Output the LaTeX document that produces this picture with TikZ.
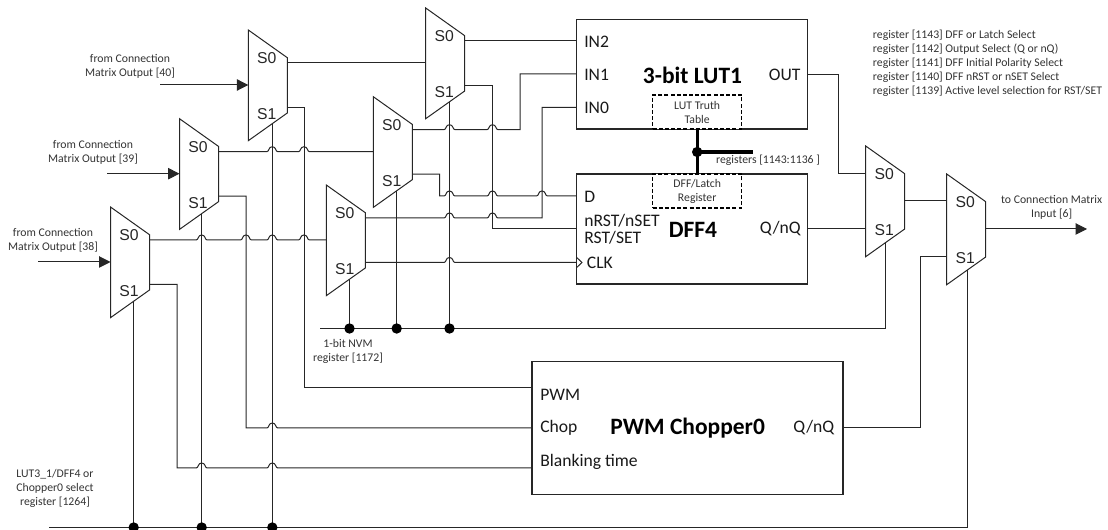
\documentclass[tikz,border=0pt]{standalone}
\usepackage{fontspec}
\setmainfont{Carlito}
\newfontfamily\muxfont{Liberation Sans}
\usetikzlibrary{arrows.meta}
\tikzset{
  wire/.style={draw=black!85,line width=0.75pt,line join=miter},
  sigarrow/.style={wire,-{Triangle[length=8.5pt,width=8.5pt]}},
  busline/.style={draw=black,line width=2.3pt},
  block/.style={draw=black!85,line width=0.85pt,fill=white,rectangle,inner sep=0pt,outer sep=0pt},
  dashbox/.style={draw=black,line width=1pt,dash pattern=on 3pt off 1.6pt,fill=white,rectangle,inner sep=0pt,outer sep=0pt,align=center,font=\fontsize{8.8}{10.5}\selectfont,text=black!80},
  muxbody/.style={draw=black!85,line width=0.75pt,fill=white,line join=miter},
  muxlabel/.style={font=\muxfont\fontsize{11.8}{12}\selectfont,text=black!85,inner sep=0pt},
  smalltext/.style={font=\fontsize{8.8}{10.5}\selectfont,text=black!80,align=center,inner sep=0pt},
  portleft/.style={font=\fontsize{13.2}{13}\selectfont,text=black!90,anchor=west,inner sep=0pt},
  portright/.style={font=\fontsize{13.2}{13}\selectfont,text=black!90,anchor=east,inner sep=0pt},
  title/.style={font=\bfseries\fontsize{17.6}{19}\selectfont,text=black,inner sep=0pt},
  joint/.style={circle,fill=black,draw=none,inner sep=0pt,minimum size=7.8pt},
}
\newcommand\hop[2]{-- (#1-5.5,#2) .. controls (#1-3,#2) and (#1-4,#2-5) .. (#1,#2-5) .. controls (#1+4,#2-5) and (#1+3,#2) .. (#1+5.5,#2)}
\newcommand\muxunit[4]{%
  \draw[muxbody] (#2,#3) -- (#2+39,#3+27.7) -- (#2+39,#3+83) -- (#2,#3+110.7) -- cycle;
  \node[muxlabel] (#1-lzero) at (#2+18.5,#3+28) {S0};
  \node[muxlabel] (#1-lone) at (#2+18.5,#3+84) {S1};
}
\newcommand\muxports[4]{%
  \coordinate (#1-in) at (#2,#3+55);
  \coordinate (#1-a) at (#2,#3+28);
  \coordinate (#1-b) at (#2,#3+83);
  \coordinate (#1-s0) at (#2+39,#3+33);
  \coordinate (#1-s1) at (#2+39,#3+77.5);
  \coordinate (#1-out) at (#2+39,#3+55);
  \coordinate (#1-sel) at (#4,#3+110.7-0.7103*#4+0.7103*#2);
}
\begin{document}
\begin{tikzpicture}[x=0.75pt,y=-0.75pt]
\useasboundingbox (0,0) rectangle (1108,530);
\muxports{A}{248.3}{30}{272.3}
\muxports{B}{179.5}{118.7}{201.7}
\muxports{C}{110.5}{207}{133.7}
\muxports{D}{425.7}{8}{449.5}
\muxports{E}{373.3}{96.7}{396.7}
\muxports{F}{326.3}{185}{349.5}
\muxports{G}{865.7}{146}{885.7}
\muxports{H}{946.7}{174}{967.7}
% blocks
\node[block,minimum width=173.25pt,minimum height=82pt] (LUT) at (692.2,74.35) {};
\node[block,minimum width=173.25pt,minimum height=82.5pt] (DFF) at (692.2,229) {};
\node[block,minimum width=233.25pt,minimum height=99.5pt] (PWM) at (687.5,428) {};
\coordinate (LUT-in2) at (576.7,41);
\coordinate (LUT-in1) at (576.7,74);
\coordinate (LUT-in0) at (576.7,107.5);
\coordinate (LUT-out) at (807.7,74.5);
\coordinate (DFF-d) at (576.7,196);
\coordinate (DFF-rst) at (576.7,229);
\coordinate (DFF-clk) at (576.7,262.5);
\coordinate (DFF-q) at (807.7,229);
\coordinate (PWM-pwm) at (532,387.7);
\coordinate (PWM-chop) at (532,428);
\coordinate (PWM-blank) at (532,468);
\coordinate (PWM-q) at (843,428);
% free ends
\coordinate (src40) at (160,85);
\coordinate (src39) at (107,173.7);
\coordinate (src38) at (38,262);
\coordinate (nvmstart) at (320,328.5);
\coordinate (selstart) at (49,527.5);
\coordinate (outend) at (1087,229);
\coordinate (busend) at (753,152);
% input arrows
\draw[sigarrow] (src40) -- (A-in);
\draw[sigarrow] (src39) -- (B-in);
\draw[sigarrow] (src38) -- (C-in);
\draw[sigarrow] (H-out) -- (outend);
% select lines
\coordinate (j1) at (133.7,527.5);
\coordinate (j2) at (201.7,527.5);
\coordinate (j3) at (272.3,527.5);
\coordinate (n1) at (349.5,328.5);
\coordinate (n2) at (396.7,328.5);
\coordinate (n3) at (449.5,328.5);
\draw[wire] (selstart) -- (967.7,527.5) -- (H-sel);
\draw[wire] (C-sel) -- (j1);
\draw[wire] (B-sel) -- (j2);
\draw[wire] (A-sel) -- (j3);
\draw[wire] (nvmstart) -- (885.7,328.5) -- (G-sel);
\draw[wire] (F-sel) -- (n1);
\draw[wire] (E-sel) -- (n2);
\draw[wire] (D-sel) -- (n3);
% wires from first column
\draw[wire] (A-s0) -- (D-in);
\draw[wire] (A-s1) -- (304,107.5) -- (304,387.7) -- (PWM-pwm);
\draw[wire] (B-s0) \hop{272.3}{151.7} \hop{304}{151.7} -- (E-in);
\draw[wire] (B-s1) -- (246,196.2) -- (246,428) \hop{272.3}{428} -- (PWM-chop);
\draw[wire] (C-s0) \hop{201.7}{240} \hop{246}{240} \hop{272.3}{240} \hop{304}{240} -- (F-in);
\draw[wire] (C-s1) -- (177,284.5) -- (177,468) \hop{201.7}{468} \hop{272.3}{468} -- (PWM-blank);
% wires from second column
\draw[wire] (D-s0) -- (LUT-in2);
\draw[wire] (D-s1) -- (492.5,85.5) -- (492.5,229) -- (DFF-rst);
\draw[wire] (E-s0) \hop{449.5}{129.7} \hop{492.5}{129.7} -- (520,129.7) -- (520,74) -- (LUT-in1);
\draw[wire] (E-s1) -- (439.5,174.2) -- (439.5,196) \hop{449.5}{196} \hop{492.5}{196} \hop{542}{196} -- (DFF-d);
\draw[wire] (F-s0) \hop{449.5}{218} \hop{492.5}{218} -- (542,218) -- (542,107.5) -- (LUT-in0);
\draw[wire] (F-s1) \hop{449.5}{262.5} -- (DFF-clk);
% output stage
\draw[wire] (LUT-out) -- (838,74.5) -- (838,174) -- (G-a);
\draw[wire] (DFF-q) -- (G-b);
\draw[wire] (G-out) -- (G-out -| H-a);
\draw[wire] (PWM-q) -- (920,428) -- (920,257) -- (H-b);
% muxes
\muxunit{A}{248.3}{30}{}
\muxunit{B}{179.5}{118.7}{}
\muxunit{C}{110.5}{207}{}
\muxunit{D}{425.7}{8}{}
\muxunit{E}{373.3}{96.7}{}
\muxunit{F}{326.3}{185}{}
\muxunit{G}{865.7}{146}{}
\muxunit{H}{946.7}{174}{}
% clock triangle
\draw[wire] (576.7,257.5) -- (582,262.5) -- (576.7,267.5);
% dashed boxes and bus
\coordinate (busjoin) at (697.2,152);
\draw[busline] (697.2,129) -- (697.2,174);
\draw[busline] (busjoin) -- (busend);
\node[joint] (busdot) at (busjoin) {};
\node[dashbox,minimum width=66.75pt,minimum height=25.5pt] (ttable) at (697.2,112) {LUT Truth\\Table};
\node[dashbox,minimum width=66.75pt,minimum height=25.5pt] (dffreg) at (697.2,191) {DFF/Latch\\Register};
% joints
\foreach \p in {j1,j2,j3,n1,n2,n3} \node[joint] (dot\p) at (\p) {};
% block text
\node[title] (luttitle) at (692.5,75) {3-bit LUT1};
\node[title] (dfftitle) at (693,230) {DFF4};
\node[title] (pwmtitle) at (687.7,428) {PWM Chopper0};
\node[portleft] (tin2) at (584,41.5) {IN2};
\node[portleft] (tin1) at (584,75) {IN1};
\node[portleft] (tin0) at (584,108) {IN0};
\node[portright] (tout) at (800.7,75) {OUT};
\node[portleft] (td) at (584,197) {D};
\node[portleft] (tnrst) at (584,220.5) {nRST/nSET};
\node[portleft] (trst) at (584,238) {RST/SET};
\node[portleft] (tclk) at (586.7,263) {CLK};
\node[portright] (tq) at (801,229) {Q/nQ};
\node[portleft] (tpwm) at (540,395) {PWM};
\node[portleft] (tchop) at (540,428) {Chop};
\node[portleft] (tblank) at (540,461.5) {Blanking time};
\node[portright] (tpq) at (834.6,428) {Q/nQ};
% labels
\node[smalltext] (l40) at (130,66) {from Connection\\Matrix Output [40]};
\node[smalltext] (l39) at (93,152.5) {from Connection\\Matrix Output [39]};
\node[smalltext] (l38) at (53,240) {from Connection\\Matrix Output [38]};
\node[smalltext] (lnvm) at (348,351) {1-bit NVM\\register [1172]};
\node[smalltext] (lsel) at (55,488.5) {LUT3\_1/DFF4 or\\Chopper0 select\\register [1264]};
\node[smalltext] (lbus) at (768,160) {registers [1143:1136 ]};
\node[smalltext] (lout) at (1051.7,207) {to Connection Matrix\\Input [6]};
\node[smalltext,align=left,anchor=north west] (lreg) at (872.7,29.5) {register [1143] DFF or Latch Select\\register [1142] Output Select (Q or nQ)\\register [1141] DFF Initial Polarity Select\\register [1140] DFF nRST or nSET Select\\register [1139] Active level selection for RST/SET};
\end{tikzpicture}
\end{document}
